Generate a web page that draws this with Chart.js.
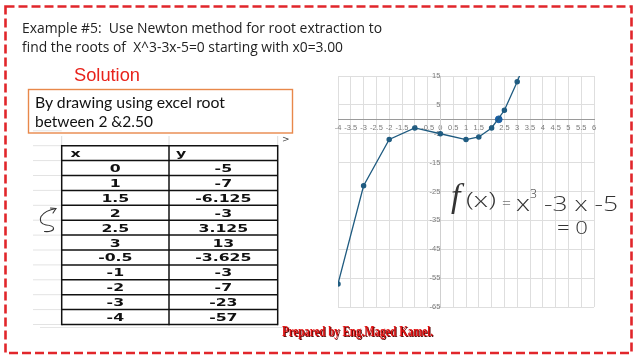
<!DOCTYPE html>
<html>
<head>
<meta charset="utf-8">
<script src="https://cdn.jsdelivr.net/npm/chart.js@4.4.1/dist/chart.umd.min.js"></script>
<style>
  html, body { margin:0; padding:0; background:#fff; }
  #stage { position:relative; width:640px; height:360px; overflow:hidden; background:#fff; }
  #chartBox { position:absolute; left:300px; top:60px; width:320px; height:260px; }
  #overlay { position:absolute; left:0; top:0; width:640px; height:360px; pointer-events:none; }
  text { white-space: pre; }
</style>
</head>
<body>
<div id="stage">
  <div id="chartBox"><canvas id="c" width="320" height="260"></canvas></div>
  <svg id="overlay" width="640" height="360" xmlns="http://www.w3.org/2000/svg"></svg>
</div>
<script>
// ---- data ----
const xValues = [-4, -3, -2, -1, 0, 1, 1.5, 2, 2.5, 3, 3.5];
const yValues = [-57, -23, -7, -3, -5, -7, -6.125, -3, 3.125, 13, 24.375];
const rootX = 2.279;
const rootY = 0;
const xAxisMin = -4, xAxisMax = 6, xAxisStep = 0.5;
const yAxisMin = -65, yAxisMax = 15, yAxisStep = 10;
const tableHeader = ['x', 'y'];
const tableX = ['0', '1', '1.5', '2', '2.5', '3', '-0.5', '-1', '-2', '-3', '-4'];
const tableY = ['-5', '-7', '-6.125', '-3', '3.125', '13', '-3.625', '-3', '-7', '-23', '-57'];

// ---- chart ----
const lineColor = '#1f5b80';
new Chart(document.getElementById('c').getContext('2d'), {
  type: 'scatter',
  data: {
    datasets: [
      {
        data: xValues.map((x, i) => ({ x: x, y: yValues[i] })),
        showLine: true,
        borderColor: lineColor,
        backgroundColor: lineColor,
        borderWidth: 1.3,
        pointRadius: 2.1,
        pointHoverRadius: 2.1,
        tension: 0
      },
      {
        data: [{ x: rootX, y: rootY }],
        showLine: false,
        borderColor: '#1b5fa3',
        backgroundColor: '#1b5fa3',
        pointRadius: 3.4
      }
    ]
  },
  options: {
    responsive: false,
    animation: false,
    devicePixelRatio: 1,
    layout: { padding: { left: 38, right: 26, top: 16, bottom: 13 } },
    plugins: { legend: { display: false }, tooltip: { enabled: false } },
    scales: {
      x: {
        type: 'linear', min: xAxisMin, max: xAxisMax,
        position: { y: 0 },
        ticks: { stepSize: xAxisStep, autoSkip: false, maxRotation: 0, minRotation: 0,
                 callback: v => String(+v),
                 font: { size: 7.5, family: 'Liberation Sans' }, color: '#7a7a7a', padding: 4 },
        grid: { color: '#dedede', lineWidth: 1, drawTicks: false },
        border: { color: '#9a9a9a', width: 1 }
      },
      y: {
        type: 'linear', min: yAxisMin, max: yAxisMax,
        position: { x: 0 },
        ticks: { stepSize: yAxisStep, callback: v => String(+v),
                 font: { size: 7.5, family: 'Liberation Sans' }, color: '#7a7a7a', padding: 4 },
        grid: { color: '#dedede', lineWidth: 1, drawTicks: false },
        border: { color: '#cfcfcf', width: 1 }
      }
    }
  }
});

// ---- slide overlay ----
const NS = 'http://www.w3.org/2000/svg';
const svg = document.getElementById('overlay');
function el(tag, attrs, parent) {
  const e = document.createElementNS(NS, tag);
  for (const k in attrs) e.setAttribute(k, attrs[k]);
  (parent || svg).appendChild(e);
  return e;
}
function txt(str, attrs, parent) {
  const t = el('text', attrs, parent);
  t.textContent = str;
  return t;
}

// red dashed frame
el('rect', { x: 5.5, y: 6.5, width: 626, height: 346.5, fill: 'none', stroke: '#e1262b', 'stroke-width': 2.6, 'stroke-dasharray': '9 4' });

// title
const titleFont = { 'font-family': 'Open Sans', 'font-size': 14.5, fill: '#222' };
txt('Example #5:  Use Newton method for root extraction to',
    Object.assign({ x: 22, y: 32.7, textLength: 360, lengthAdjust: 'spacingAndGlyphs' }, titleFont));
txt('find the roots of  X^3-3x-5=0 starting with x0=3.00',
    Object.assign({ x: 22, y: 51.7, textLength: 321, lengthAdjust: 'spacingAndGlyphs' }, titleFont));

// Solution
txt('Solution', { x: 74, y: 81, textLength: 66, lengthAdjust: 'spacingAndGlyphs',
  'font-family': 'Liberation Sans', 'font-size': 17.5, fill: '#e8221b' });

// box
el('rect', { x: 28.5, y: 89.5, width: 264, height: 43.5, fill: '#fff', stroke: '#e8884a', 'stroke-width': 1.4 });
txt('By drawing using excel root', { x: 35, y: 108, textLength: 190, lengthAdjust: 'spacingAndGlyphs',
  'font-family': 'Lato', 'font-size': 16, fill: '#111' });
txt('between 2 &2.50', { x: 35, y: 127, textLength: 118, lengthAdjust: 'spacingAndGlyphs',
  'font-family': 'Lato', 'font-size': 16, fill: '#111' });

// table
const tLeft = 61.7, tMid = 169, tRight = 277.7, tTop = 145.7, rowH = 14.9;
const nRows = tableX.length + 1;
const tBottom = tTop + nRows * rowH;
// faint excel grid around
for (let i = -1; i <= nRows; i++) {
  const y = tTop + i * rowH;
  el('line', { x1: 33, y1: y, x2: tLeft, y2: y, stroke: '#e3e3e3', 'stroke-width': 1 });
}
el('line', { x1: tLeft, y1: 136, x2: tLeft, y2: tTop, stroke: '#dcdcdc', 'stroke-width': 1 });
el('line', { x1: tMid, y1: 136, x2: tMid, y2: tTop, stroke: '#dcdcdc', 'stroke-width': 1 });
el('line', { x1: tRight, y1: 136, x2: tRight, y2: tTop, stroke: '#dcdcdc', 'stroke-width': 1 });
el('line', { x1: 40, y1: tBottom + 3, x2: 290, y2: tBottom + 3, stroke: '#e6e6e6', 'stroke-width': 1 });
txt('>', { x: 282, y: 142, 'font-family': 'DejaVu Sans', 'font-size': 9, fill: '#444' });
for (let i = 0; i <= nRows; i++) {
  const y = tTop + i * rowH;
  el('line', { x1: tLeft, y1: y, x2: tRight, y2: y, stroke: '#111', 'stroke-width': 1.5 });
}
[tLeft, tMid, tRight].forEach(x => el('line', { x1: x, y1: tTop - 0.75, x2: x, y2: tBottom + 0.75, stroke: '#111', 'stroke-width': 1.5 }));
const cellFont = { 'font-family': 'DejaVu Sans', 'font-weight': 'bold', 'font-size': 10.5, fill: '#111' };
function cell(str, x, base, anchor) {
  const g = el('g', { transform: 'translate(' + x + ',' + base + ') scale(1.5,1)' });
  txt(str, Object.assign({ x: 0, y: 0, 'text-anchor': anchor }, cellFont), g);
}
cell(tableHeader[0], 70.5, tTop + rowH / 2 + 3.5, 'start');
cell(tableHeader[1], 176, tTop + rowH / 2 + 3.5, 'start');
for (let i = 0; i < tableX.length; i++) {
  const base = tTop + (i + 1.5) * rowH + 4;
  cell(tableX[i], (tLeft + tMid) / 2, base, 'middle');
  cell(tableY[i], (tMid + tRight) / 2, base, 'middle');
}

// curly arrow
el('path', { d: 'M56 208.5 C50 209.5 44 212 41 216.5 C39 220.5 41 224.5 46 225 C50 225.3 53 225.5 53.5 228 C54 231 49 232 44.5 231.5',
  fill: 'none', stroke: '#333', 'stroke-width': 1.1, 'stroke-linecap': 'round' });
el('path', { d: 'M50.5 208 L56 208.5 L53 213', fill: 'none', stroke: '#333', 'stroke-width': 1.1, 'stroke-linecap': 'round', 'stroke-linejoin': 'round' });

// prepared by
txt('Prepared by Eng.Maged Kamel.', { x: 283, y: 336.5, textLength: 151, lengthAdjust: 'spacingAndGlyphs',
  'font-family': 'Liberation Serif', 'font-weight': 'bold', 'font-size': 14.5, fill: '#5a0a0a' });
txt('Prepared by Eng.Maged Kamel.', { x: 282, y: 335.5, textLength: 151, lengthAdjust: 'spacingAndGlyphs',
  'font-family': 'Liberation Serif', 'font-weight': 'bold', 'font-size': 14.5, fill: '#e01414' });

// handwritten formula
const hw = { 'font-family': 'Open Sans', 'font-weight': 300, fill: '#333' };
txt('f', { x: 451, y: 207, 'font-size': 34, 'font-style': 'italic', 'font-family': 'Liberation Serif', fill: '#333' });
txt('(x)', Object.assign({ x: 466, y: 207, 'font-size': 21, textLength: 30, lengthAdjust: 'spacingAndGlyphs' }, hw));
txt('=', Object.assign({ x: 502, y: 209, 'font-size': 17, textLength: 9, lengthAdjust: 'spacingAndGlyphs' }, hw));
txt('x', Object.assign({ x: 516, y: 211, 'font-size': 22, textLength: 14, lengthAdjust: 'spacingAndGlyphs' }, hw));
txt('3', Object.assign({ x: 530, y: 198, 'font-size': 13, textLength: 7, lengthAdjust: 'spacingAndGlyphs' }, hw));
txt('-3 x -5', Object.assign({ x: 544, y: 211, 'font-size': 21, textLength: 74, lengthAdjust: 'spacingAndGlyphs' }, hw));
txt('= 0', Object.assign({ x: 557, y: 234, 'font-size': 18, textLength: 31, lengthAdjust: 'spacingAndGlyphs' }, hw));
</script>
</body>
</html>
